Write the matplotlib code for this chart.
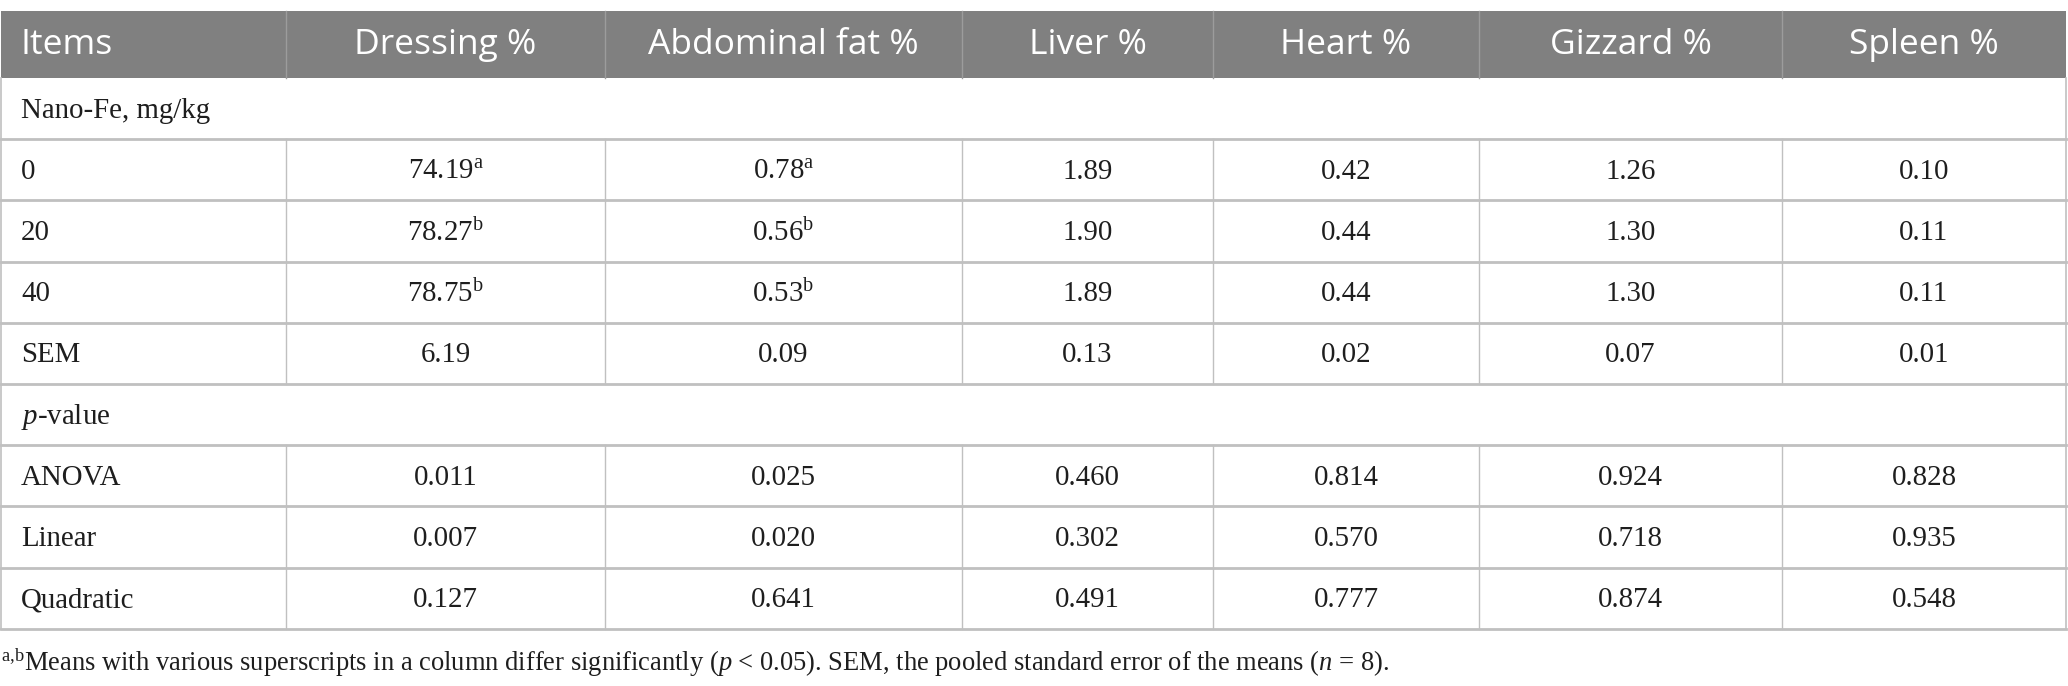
import matplotlib.pyplot as plt
from matplotlib.patches import Rectangle

plt.rcParams['mathtext.fontset'] = 'custom'
plt.rcParams['mathtext.rm'] = 'Liberation Serif'
plt.rcParams['mathtext.it'] = 'Liberation Serif:italic'

# table content
columns = ["Items", "Dressing %", "Abdominal fat %", "Liver %", "Heart %", "Gizzard %", "Spleen %"]
dose_labels = ["0", "20", "40", "SEM"]
dressing = ["74.19$^{\\mathrm{a}}$", "78.27$^{\\mathrm{b}}$", "78.75$^{\\mathrm{b}}$", "6.19"]
abdominal_fat = ["0.78$^{\\mathrm{a}}$", "0.56$^{\\mathrm{b}}$", "0.53$^{\\mathrm{b}}$", "0.09"]
liver = ["1.89", "1.90", "1.89", "0.13"]
heart = ["0.42", "0.44", "0.44", "0.02"]
gizzard = ["1.26", "1.30", "1.30", "0.07"]
spleen = ["0.10", "0.11", "0.11", "0.01"]

p_labels = ["ANOVA", "Linear", "Quadratic"]
p_dressing = ["0.011", "0.007", "0.127"]
p_abdominal_fat = ["0.025", "0.020", "0.641"]
p_liver = ["0.460", "0.302", "0.491"]
p_heart = ["0.814", "0.570", "0.777"]
p_gizzard = ["0.924", "0.718", "0.874"]
p_spleen = ["0.828", "0.935", "0.548"]

footnote = ("$^{\\mathrm{a{,}b}}$Means with various superscripts in a column differ significantly "
            "($p$ < 0.05). SEM, the pooled standard error of the means ($n$ = 8).")

# layout (pixels)
W, H = 2068, 686
col_edges = [1, 286, 605, 962, 1213, 1479, 1782, 2066]
top, head_bot, row_h = 11, 78, 61.2
header_bg = "#808080"
grid = "#c0c0c0"
ink = "#1e1e1e"
body_font = "Liberation Serif"
body_size = 20.8

rows = [("group", "Nano-Fe, mg/kg", None)]
for i, lab in enumerate(dose_labels):
    rows.append(("data", lab, [dressing[i], abdominal_fat[i], liver[i], heart[i], gizzard[i], spleen[i]]))
rows.append(("group", "$p$-value", None))
for i, lab in enumerate(p_labels):
    rows.append(("data", lab, [p_dressing[i], p_abdominal_fat[i], p_liver[i], p_heart[i], p_gizzard[i], p_spleen[i]]))

fig = plt.figure(figsize=(W / 100, H / 100), dpi=100)
ax = fig.add_axes([0, 0, 1, 1])
ax.set_xlim(0, W)
ax.set_ylim(H, 0)
ax.axis("off")

# header
ax.add_patch(Rectangle((col_edges[0], top), col_edges[-1] - col_edges[0], head_bot - top,
                       facecolor=header_bg, edgecolor="none"))
for x in col_edges[1:-1]:
    ax.plot([x, x], [top, head_bot], color="#9c9c9c", lw=1)
for j, name in enumerate(columns):
    yc = (top + head_bot) / 2 + 1
    if j == 0:
        ax.text(col_edges[0] + 20, yc, name, color="white", fontsize=25.5, family="Open Sans",
                ha="left", va="center")
    else:
        ax.text((col_edges[j] + col_edges[j + 1]) / 2, yc, name, color="white", fontsize=25.5,
                family="Open Sans", ha="center", va="center")

# body
y = head_bot
for kind, label, vals in rows:
    y0, y1 = y, y + row_h
    yc = (y0 + y1) / 2 + 2
    ax.text(col_edges[0] + 20, yc, label, fontsize=body_size, family=body_font,
            ha="left", va="center", color=ink)
    if kind == "data":
        for x in col_edges[1:-1]:
            ax.plot([x, x], [y0, y1], color=grid, lw=1)
        for j, v in enumerate(vals):
            ax.text((col_edges[j + 1] + col_edges[j + 2]) / 2, yc, v, fontsize=body_size,
                    family=body_font, ha="center", va="center", color=ink)
    ax.plot([col_edges[0], col_edges[-1]], [y1, y1], color=grid, lw=2)
    y = y1

# outer border
ax.plot([col_edges[0], col_edges[0]], [head_bot, y], color=grid, lw=1.2)
ax.plot([col_edges[-1], col_edges[-1]], [head_bot, y], color=grid, lw=1.2)

ax.text(col_edges[0], y + 34, footnote, fontsize=19.1, family=body_font, ha="left",
        va="center", color=ink)

fig.savefig("out.png", dpi=100)
